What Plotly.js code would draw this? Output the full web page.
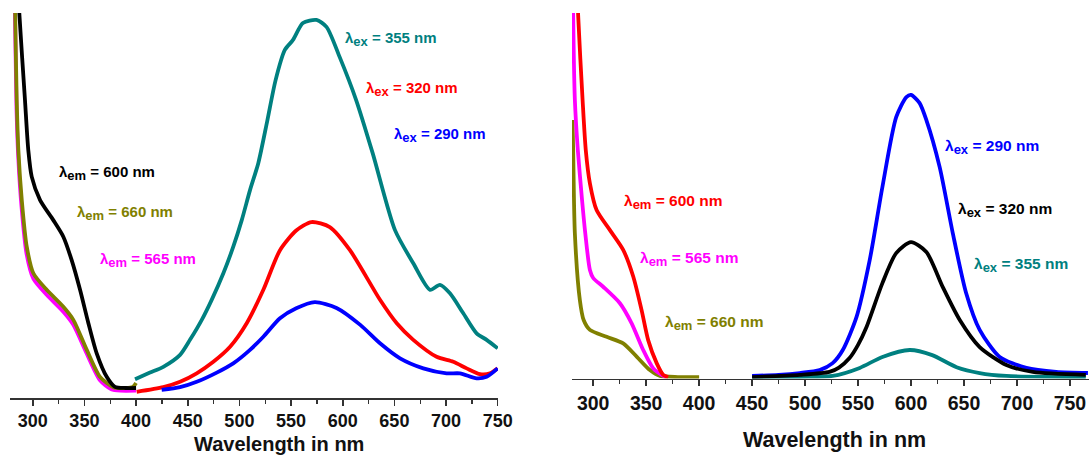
<!DOCTYPE html>
<html>
<head>
<meta charset="utf-8">
<script src="https://cdn.plot.ly/plotly-3.0.1.min.js"></script>
<style>
  html, body { margin: 0; padding: 0; background: #fff; }
  #chart { width: 1089px; height: 456px; }
</style>
</head>
<body>
<div id="chart"></div>
<script>
// ---- Left panel: excitation spectra (monitored at λem) ----
const leftEm600X = [286.5, 287, 292.5, 295.7, 299, 307.1, 319.9, 329.6, 337.7, 345.8, 353.8, 361.9, 371.6, 379.6, 390, 400];
const leftEm600Y = [104, 100, 77.4, 64.4, 57.5, 51.4, 46.2, 41.9, 35.8, 28.1, 19.5, 11.6, 5.5, 2.9, 2.6, 2.6];

const leftEm660X = [282.8, 283, 284.5, 286.1, 289.4, 294.2, 300.6, 313.5, 329.6, 339.3, 352.3, 365.1, 378, 390, 397, 400];
const leftEm660Y = [104, 100, 77.4, 64.4, 51.4, 39.3, 32.4, 28.1, 23.7, 20.3, 12.5, 5.5, 2.8, 2.6, 2.9, 3.9];

const leftEm565X = [282.5, 284.3, 286, 289.2, 294, 300.6, 313.5, 329.6, 339.3, 352.3, 365.1, 376, 385, 400];
const leftEm565Y = [104, 75, 62.5, 49.5, 37.5, 31.0, 26.8, 22.4, 19.0, 11.5, 4.6, 2.3, 1.9, 1.9];

// ---- Left panel: emission spectra (excited at λex) ----
const leftEx355X = [399, 413.5, 426.4, 442.6, 452.2, 463.6, 473.2, 484.5, 494.1, 502.3, 510.3, 518.3, 527, 535, 544, 551.9, 561.5, 574.6, 584.3, 597, 613, 629, 650.6, 668.3, 684.5, 694.1, 703.8, 716.7, 729.6, 739.3, 750];
const leftEx355Y = [4.9, 6.6, 8.1, 11.2, 15.1, 20.3, 25.5, 32.4, 39.3, 46.2, 54.0, 61.0, 72, 82.5, 90.4, 93.0, 97.4, 98.2, 96.4, 88.6, 77.4, 63.6, 43.6, 35.0, 28.1, 29.4, 27.2, 22.0, 16.8, 15.1, 12.9];

const leftEx320X = [400.6, 426.4, 442.6, 458.7, 474.8, 491, 507.1, 523.2, 539.3, 555, 569.8, 587.5, 607, 636.1, 652.3, 668.3, 690.9, 707, 720, 732.9, 742.6, 750];
const leftEx320Y = [1.6, 2.8, 4.2, 6.4, 9.4, 13.3, 19.4, 28.1, 38.4, 43.5, 45.7, 44.4, 38.4, 25.5, 19.4, 15.1, 10.7, 9.4, 7.7, 6.2, 6.4, 7.7];

const leftEx290X = [424.8, 442.6, 458.7, 478.1, 494.1, 510.3, 523.2, 539.3, 555, 573, 594, 617, 636.1, 655.5, 678, 700.6, 713.5, 729.6, 739.3, 750];
const leftEx290Y = [2.1, 2.8, 4.2, 6.6, 9.0, 12.5, 15.9, 20.7, 23.3, 24.9, 23.4, 19.0, 14.2, 10.3, 7.7, 6.4, 6.4, 5.1, 5.5, 7.7];

// ---- Right panel: excitation spectra ----
const rightEm600X = [285.5, 285.8, 290, 293, 296.9, 303.2, 315.8, 328.3, 337.8, 345.7, 351.9, 359.9, 366.1, 370.7];
const rightEm600Y = [103.6, 99.5, 76.2, 62.5, 53.4, 46.1, 40.6, 35.2, 27.9, 18.7, 10.5, 4.2, 1.0, 0.4];

const rightEm565X = [281, 281.1, 282.7, 285.5, 289.5, 292.5, 296.9, 300, 309.4, 325.2, 336.3, 347.2, 356.6, 364.6, 369];
const rightEm565Y = [103.6, 99.5, 76.2, 62.5, 48.8, 39.8, 29.7, 27.5, 25.1, 20.6, 15.1, 7.8, 2.8, 1.0, 0.4];

const rightEm660X = [280.5, 281.1, 282.7, 287.4, 291, 296.9, 312.7, 328.3, 341, 353.5, 363, 380, 400];
const rightEm660Y = [70.7, 62.5, 39.7, 21.5, 16.0, 13.3, 11.4, 9.6, 6.0, 2.3, 0.7, 0.4, 0.4];

// ---- Right panel: emission spectra ----
const rightEx290X = [450, 475, 495, 513.8, 526, 535.6, 548.5, 561, 573, 586, 595.6, 600, 608, 614.5, 627, 639.4, 652, 664.8, 683.7, 708.9, 737, 767];
const rightEx290Y = [0.7, 1.0, 1.5, 2.3, 4.2, 7.8, 16.8, 32.4, 52.4, 71.5, 77.0, 77.6, 75.4, 70.7, 57.9, 39.8, 23.4, 13.3, 5.9, 2.9, 1.8, 1.5];

const rightEx320X = [450, 495, 523, 532, 542, 550, 558, 573, 586, 600, 614.5, 630, 646, 664.8, 690, 715, 765];
const rightEx320Y = [0.4, 1.0, 1.8, 3.0, 5.6, 9.2, 14.1, 26.1, 34.3, 37.3, 34.6, 25.0, 16.0, 8.6, 3.7, 1.8, 1.0];

const rightEx355X = [450, 495, 526, 551.6, 573, 598.8, 620, 643, 664.8, 690, 765];
const rightEx355Y = [0.1, 0.4, 0.7, 2.9, 5.9, 7.8, 6.4, 3.1, 1.5, 0.7, 0.4];

const tickVals = [300, 350, 400, 450, 500, 550, 600, 650, 700, 750];
const xTitle = 'Wavelength in nm';

const C = {
  teal: '#008080', red: '#ff0000', blue: '#0000ff',
  black: '#000000', olive: '#808000', magenta: '#ff00ff'
};
const LW = 3.8;

function line(x, y, color, xa, ya, name) {
  return {
    x: x, y: y, type: 'scatter', mode: 'lines', name: name,
    xaxis: xa, yaxis: ya,
    line: { color: color, width: LW, shape: 'spline', smoothing: 0.7 },
    hoverinfo: 'x+y+name'
  };
}

const traces = [
  line(leftEm565X, leftEm565Y, C.magenta, 'x', 'y', 'λem = 565 nm'),
  line(leftEm660X, leftEm660Y, C.olive, 'x', 'y', 'λem = 660 nm'),
  line(leftEm600X, leftEm600Y, C.black, 'x', 'y', 'λem = 600 nm'),
  line(leftEx355X, leftEx355Y, C.teal, 'x', 'y', 'λex = 355 nm'),
  line(leftEx320X, leftEx320Y, C.red, 'x', 'y', 'λex = 320 nm'),
  line(leftEx290X, leftEx290Y, C.blue, 'x', 'y', 'λex = 290 nm'),

  line(rightEm660X, rightEm660Y, C.olive, 'x2', 'y2', 'λem = 660 nm'),
  line(rightEm565X, rightEm565Y, C.magenta, 'x2', 'y2', 'λem = 565 nm'),
  line(rightEm600X, rightEm600Y, C.red, 'x2', 'y2', 'λem = 600 nm'),
  line(rightEx355X, rightEx355Y, C.teal, 'x2', 'y2', 'λex = 355 nm'),
  line(rightEx290X, rightEx290Y, C.blue, 'x2', 'y2', 'λex = 290 nm'),
  line(rightEx320X, rightEx320Y, C.black, 'x2', 'y2', 'λex = 320 nm')
];

const FONT = 'Liberation Sans, Arial, Helvetica, sans-serif';

function xAxis(domain, range, size, anchor) {
  return {
    domain: domain, range: range, anchor: anchor,
    tickmode: 'array', tickvals: tickVals,
    ticks: 'outside', ticklen: 6, tickwidth: 1.6, tickcolor: '#333',
    showline: true, linecolor: '#333', linewidth: 1.6,
    showgrid: false, zeroline: false,
    tickfont: { family: FONT, size: size, color: '#111', weight: 'bold' },
    minor: { ticks: 'outside', ticklen: 4, tickwidth: 1.4, tickcolor: '#333', dtick: 25, tick0: 0, showgrid: false },
    fixedrange: true
  };
}
function yAxis(domain, anchor) {
  return {
    domain: domain, range: [0, 100], anchor: anchor,
    visible: false, showgrid: false, zeroline: false, fixedrange: true
  };
}

// λ with a larger-than-default subscript
function lam(sub, rest) {
  return 'λ<sub><span style="font-size:13px">' + sub + '</span></sub> ' + rest;
}

function label(text, color, x, y, xref, yref, size) {
  return {
    text: text, x: x, y: y, xref: xref, yref: yref,
    xanchor: 'left', yanchor: 'middle', showarrow: false,
    font: { family: FONT, size: size, color: color, weight: 'bold' }
  };
}

const W = 1089, H = 456;
const layout = {
  width: W, height: H,
  margin: { l: 0, r: 0, t: 0, b: 0 },
  paper_bgcolor: '#fff', plot_bgcolor: '#fff',
  showlegend: false,
  xaxis: xAxis([10 / W, 498 / W], [278, 750.3], 18, 'y'),
  yaxis: yAxis([1 - 398 / H, 1 - 13 / H], 'x'),
  xaxis2: xAxis([572 / W, 1], [280, 768], 19.5, 'y2'),
  yaxis2: yAxis([1 - 378.5 / H, 1 - 13 / H], 'x2'),
  annotations: [
    label(lam('em', '= 600 nm'), C.black, 323.5, 58.4, 'x', 'y', 15),
    label(lam('em', '= 660 nm'), C.olive, 340.9, 48.1, 'x', 'y', 15),
    label(lam('em', '= 565 nm'), C.magenta, 363.2, 35.8, 'x', 'y', 15),
    label(lam('ex', '= 355 nm'), C.teal, 600.3, 93.2, 'x', 'y', 15),
    label(lam('ex', '= 320 nm'), C.red, 620.6, 80.3, 'x', 'y', 15),
    label(lam('ex', '= 290 nm'), C.blue, 647.7, 68.3, 'x', 'y', 15),

    label(lam('em', '= 600 nm'), C.red, 327.1, 48.3, 'x2', 'y2', 15.5),
    label(lam('em', '= 565 nm'), C.magenta, 342.2, 32.7, 'x2', 'y2', 15.5),
    label(lam('em', '= 660 nm'), C.olive, 365.8, 15.2, 'x2', 'y2', 15.5),
    label(lam('ex', '= 290 nm'), C.blue, 630.1, 63.3, 'x2', 'y2', 15.5),
    label(lam('ex', '= 320 nm'), C.black, 642.4, 46.1, 'x2', 'y2', 15.5),
    label(lam('ex', '= 355 nm'), C.teal, 657.5, 31.1, 'x2', 'y2', 15.5),

    // axis titles
    { text: xTitle, xref: 'paper', yref: 'paper', x: 279 / W, y: 1 - 444 / H,
      xanchor: 'center', yanchor: 'middle', showarrow: false,
      font: { family: FONT, size: 20, color: '#111', weight: 'bold' } },
    { text: xTitle, xref: 'paper', yref: 'paper', x: 834 / W, y: 1 - 440 / H,
      xanchor: 'center', yanchor: 'middle', showarrow: false,
      font: { family: FONT, size: 21.5, color: '#111', weight: 'bold' } }
  ]
};

Plotly.newPlot('chart', traces, layout, { staticPlot: true, displayModeBar: false });
</script>
</body>
</html>
